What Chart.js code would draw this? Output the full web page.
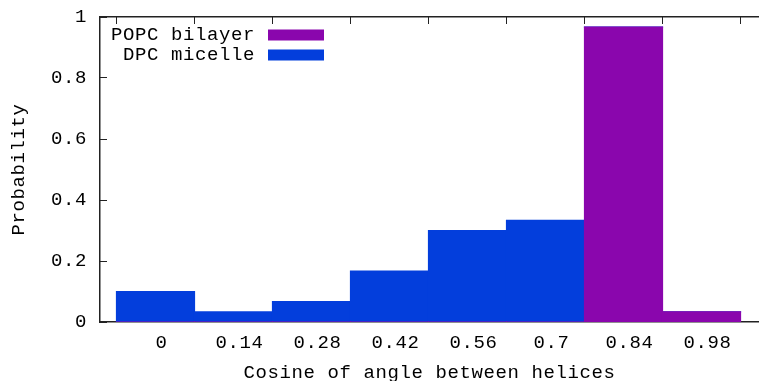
<!DOCTYPE html>
<html>
<head>
<meta charset="utf-8">
<script src="https://cdn.jsdelivr.net/npm/chart.js@4.4.1/dist/chart.umd.min.js"></script>
<style>
  html, body { margin: 0; padding: 0; background: #fff; }
</style>
</head>
<body>
<canvas id="histChart" width="759" height="381"></canvas>
<script>
// bins of the cosine histogram, one label per bin
const binLabels = ['0', '0.14', '0.28', '0.42', '0.56', '0.7', '0.84', '0.98'];
const popcValues = [0, 0, 0, 0, 0, 0, 0.967, 0.033];
const dpcValues = [0.1, 0.033, 0.067, 0.167, 0.3, 0.333, 0, 0];
const yTickValues = [0, 0.2, 0.4, 0.6, 0.8, 1];

const POPC_COLOR = '#8a06ad';
const DPC_COLOR = '#033edc';
const AXIS_COLOR = '#222';
const FONT = { family: "'Liberation Mono', 'DejaVu Sans Mono', monospace", size: 19 };

Chart.defaults.font.family = FONT.family;
Chart.defaults.font.size = FONT.size;
Chart.defaults.color = '#000';

const toPoints = vals => vals.map((v, i) => ({ x: i, y: v }));
const binTicks = axis => { axis.ticks = binLabels.map((_, i) => ({ value: i })); };

// keep the plot box fixed, labels may hang over its edges
const noPad = s => { s.paddingTop = s.paddingBottom = s.paddingLeft = s.paddingRight = 0; };

// courier-ish spacing for all canvas text
const spacing = {
  id: 'spacing',
  beforeDraw(chart) { chart.ctx.letterSpacing = '0.6px'; }
};

// key in the gnuplot style: label first, colour swatch after it
const keyBox = {
  id: 'keyBox',
  afterDraw(chart, args, opts) {
    const ctx = chart.ctx;
    ctx.save();
    ctx.font = `${FONT.size}px ${FONT.family}`;
    ctx.textAlign = 'right';
    ctx.textBaseline = 'middle';
    chart.data.datasets.forEach((ds, i) => {
      const y = opts.top + i * opts.rowHeight;
      ctx.fillStyle = '#000';
      ctx.fillText(ds.label, opts.textRight, y);
      ctx.fillStyle = ds.backgroundColor;
      ctx.fillRect(opts.textRight + opts.gap, y - opts.boxHeight / 2, opts.boxWidth, opts.boxHeight);
    });
    ctx.restore();
  }
};

const xMin = -0.7115, xMax = 7.737;

new Chart(document.getElementById('histChart'), {
  type: 'bar',
  data: {
    datasets: [
      { label: 'POPC bilayer', data: toPoints(popcValues), backgroundColor: POPC_COLOR, borderWidth: 0, inflateAmount: 0.6 },
      { label: 'DPC micelle', data: toPoints(dpcValues), backgroundColor: DPC_COLOR, borderWidth: 0, inflateAmount: 0.6 }
    ]
  },
  options: {
    responsive: false,
    animation: false,
    devicePixelRatio: 1,
    barPercentage: 1,
    categoryPercentage: 1,
    layout: { padding: { top: 17, right: 0, bottom: 0, left: 0 } },
    plugins: {
      legend: { display: false },
      tooltip: { enabled: false },
      keyBox: { textRight: 255, top: 35, rowHeight: 20, gap: 13, boxWidth: 56, boxHeight: 11 }
    },
    scales: {
      x: {
        type: 'linear',
        position: 'bottom',
        offset: false,
        stacked: true,
        min: xMin,
        max: xMax,
        afterBuildTicks: binTicks,
        afterFit: s => { s.height = 59; noPad(s); },
        grid: { display: false, drawTicks: false, offset: false },
        border: { display: true, color: AXIS_COLOR, width: 1.5 },
        ticks: {
          padding: 10,
          labelOffset: 6,
          maxRotation: 0,
          autoSkip: false,
          callback: v => binLabels[v]
        },
        title: {
          display: true,
          text: 'Cosine of angle between helices',
          font: { lineHeight: 0.8 },
          padding: 0
        }
      },
      xTop: {
        type: 'linear',
        position: 'top',
        offset: false,
        min: xMin,
        max: xMax,
        afterBuildTicks: binTicks,
        afterFit: s => { s.height = 0; noPad(s); },
        ticks: { display: false },
        grid: { drawOnChartArea: false, tickLength: -7, color: AXIS_COLOR, lineWidth: 1 },
        border: { display: true, color: AXIS_COLOR, width: 1.5 }
      },
      y: {
        stacked: true,
        min: 0,
        max: 1,
        afterBuildTicks: axis => { axis.ticks = yTickValues.map(v => ({ value: v })); },
        afterFit: s => { s.width = 100; noPad(s); },
        grid: { drawOnChartArea: false, tickLength: -7, color: AXIS_COLOR, lineWidth: 1 },
        border: { display: true, color: AXIS_COLOR, width: 1.5 },
        ticks: {
          padding: 20,
          callback: v => String(+v.toFixed(1))
        },
        title: {
          display: true,
          text: 'Probability',
          padding: { top: 8, bottom: 0 }
        }
      }
    }
  },
  plugins: [spacing, keyBox]
});
</script>
</body>
</html>
